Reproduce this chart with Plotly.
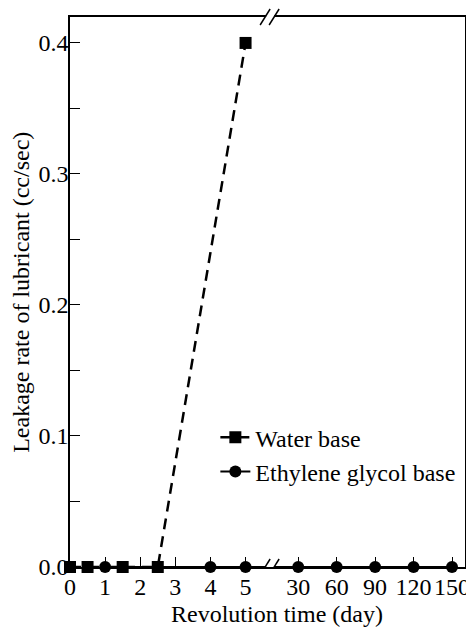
import plotly.graph_objects as go

# ---- data ----
tick_days = [0, 1, 2, 3, 4, 5, 30, 60, 90, 120, 150]
tick_labels = ["0", "1", "2", "3", "4", "5", "30", "60", "90", "120", "150"]

rate_ticks = [0.0, 0.1, 0.2, 0.3, 0.4]

water_days = [0, 0.5, 1.5, 2.5, 5]
water_rate = [0.0, 0.0, 0.0, 0.0, 0.4]

glycol_days = [1, 4, 5, 30, 60, 90, 120, 150]
glycol_rate = [0.0, 0.0, 0.0, 0.0, 0.0, 0.0, 0.0, 0.0]


# broken axis: 0-5 days linear, then 30-150 days compressed
def xpos(d):
    if d <= 5:
        return d
    return 5 + 1.5 + (d - 30) / 30 * 1.095


BREAK_X = 5.70
FONT = "Liberation Serif"

fig = go.Figure()
fig.add_trace(go.Scatter(
    x=[xpos(d) for d in water_days], y=water_rate,
    mode="lines+markers", name="Water base",
    line=dict(color="black", width=2.5, dash="11px,7px"),
    marker=dict(symbol="square", size=12, color="black"),
    cliponaxis=False,
))
fig.add_trace(go.Scatter(
    x=[xpos(d) for d in glycol_days], y=glycol_rate,
    mode="lines+markers", name="Ethylene glycol base",
    line=dict(color="black", width=2),
    marker=dict(symbol="circle", size=12, color="black"),
    cliponaxis=False,
))

shapes = []
for yref, yanchor in (("y", 0), ("paper", 1)):
    # gap in the axis line
    shapes.append(dict(type="rect", xref="x", yref=yref, xsizemode="pixel", ysizemode="pixel",
                       xanchor=BREAK_X, yanchor=yanchor, x0=-4, x1=4, y0=-2, y1=2,
                       fillcolor="white", line=dict(width=0), layer="above"))
    for dx in (-5, 4):
        shapes.append(dict(type="line", xref="x", yref=yref, xsizemode="pixel", ysizemode="pixel",
                           xanchor=BREAK_X, yanchor=yanchor, x0=dx - 5, x1=dx + 5, y0=-8, y1=8,
                           line=dict(color="black", width=1.5), layer="above"))

annotations = [
    dict(text="Revolution time (day)", xref="paper", yref="paper",
         x=0.525, y=-0.0855, xanchor="center", yanchor="middle",
         showarrow=False, font=dict(size=24, family=FONT)),
    dict(text="Leakage rate of lubricant (cc/sec)", xref="paper", yref="paper",
         x=-0.1245, y=0.5, xanchor="center", yanchor="middle", textangle=-90,
         showarrow=False, font=dict(size=24, family=FONT)),
]

# the page body has an 8px margin, so the figure is sized/offset to compensate
fig.update_layout(
    width=466, height=619,
    margin=dict(l=62, r=9, t=9, b=60),
    paper_bgcolor="white", plot_bgcolor="white",
    font=dict(family=FONT, size=24, color="black"),
    showlegend=True,
    legend=dict(x=0.368, y=0.276, xanchor="left", yanchor="top",
                bgcolor="rgba(0,0,0,0)", font=dict(size=24, family=FONT),
                itemwidth=30),
    shapes=shapes,
    annotations=annotations,
    xaxis=dict(
        range=[0, 11.25], automargin=False,
        tickvals=[xpos(d) for d in tick_days], ticktext=tick_labels,
        ticks="inside", ticklen=10, tickcolor="black", tickwidth=1,
        showline=True, linecolor="black", linewidth=1.5, mirror=True,
        showgrid=False, zeroline=False, ticklabelstandoff=-3,
        tickfont=dict(size=24),
    ),
    yaxis=dict(
        range=[0, 0.4198], automargin=False,
        tickvals=rate_ticks, tickformat=".1f",
        ticks="inside", ticklen=10, tickcolor="black", tickwidth=1,
        minor=dict(ticks="inside", ticklen=10, dtick=0.05, tickcolor="black", tickwidth=1, showgrid=False),
        showline=True, linecolor="black", linewidth=1.5, mirror=True,
        showgrid=False, zeroline=False, ticklabelstandoff=-5,
        tickfont=dict(size=24),
    ),
)

fig.write_html("out.html")
